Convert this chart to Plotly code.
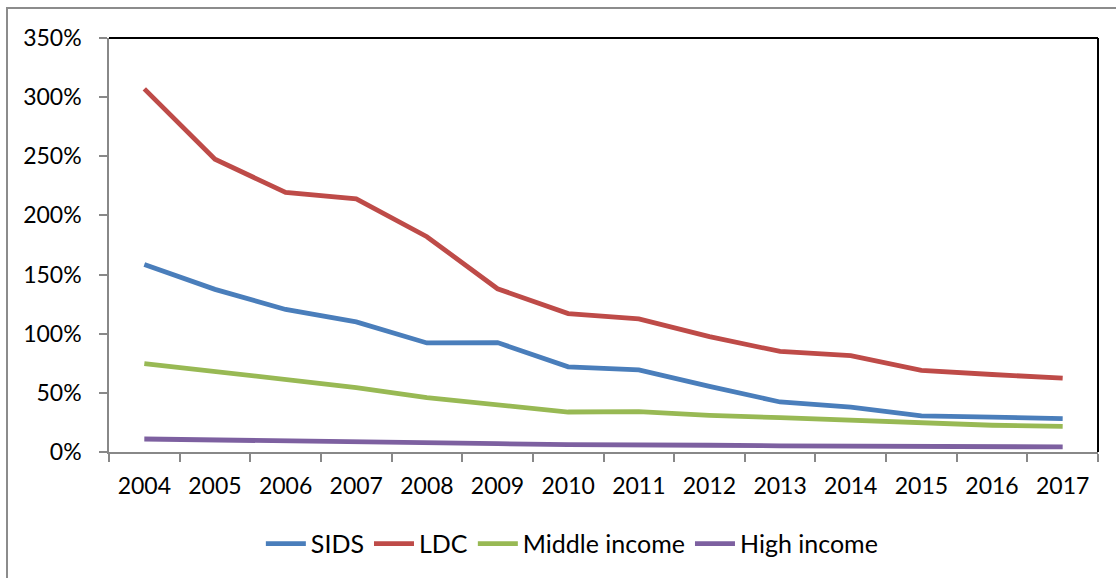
import plotly.graph_objects as go

years = ["2004","2005","2006","2007","2008","2009","2010","2011","2012","2013","2014","2015","2016","2017"]
sids = [1.585,1.375,1.205,1.10,0.922,0.925,0.72,0.695,0.555,0.423,0.38,0.305,0.295,0.283]
ldc = [3.07,2.475,2.195,2.14,1.82,1.38,1.17,1.125,0.975,0.85,0.815,0.69,0.655,0.625]
middle = [0.748,0.68,0.607,0.545,0.46,0.398,0.338,0.342,0.31,0.29,0.27,0.247,0.226,0.217]
high = [0.11,0.10,0.098,0.088,0.076,0.07,0.062,0.063,0.057,0.052,0.051,0.048,0.044,0.043]

names = ["SIDS","LDC","Middle income","High income"]
colors = ["#4A7EBB","#BE4B48","#98B954","#7D60A0"]
series = [sids, ldc, middle, high]

FONT = "Lato"
fig = go.Figure()
for n, c, s in zip(names, colors, series):
    fig.add_trace(go.Scatter(x=years, y=s, name=n, mode="lines",
                             line=dict(color=c, width=4.8)))

fig.update_layout(
    width=1116, height=578,
    margin=dict(l=109, r=18, t=38, b=126, autoexpand=False),
    paper_bgcolor="white", plot_bgcolor="white",
    font=dict(family=FONT, size=23, color="black"),
    showlegend=True,
    legend=dict(orientation="h", x=0.468, xanchor="center", y=-0.222, yanchor="middle",
                font=dict(family=FONT, size=25), itemwidth=40, tracegroupgap=0,
                bgcolor="rgba(0,0,0,0)"),
    xaxis=dict(type="category", showgrid=False, showline=True, linecolor="#888888", linewidth=1.5,
               ticks="outside", ticklen=8, tickcolor="#888888", tickwidth=1.5,
               tickson="boundaries", ticklabelstandoff=13, zeroline=False, automargin=False,
               range=[-0.5, 13.5]),
    yaxis=dict(range=[0, 3.5], dtick=0.5, tickformat=".0%", showgrid=False,
               showline=True, linecolor="#888888", linewidth=1.5,
               ticks="outside", ticklen=8, tickcolor="#888888", tickwidth=1.5,
               ticklabelstandoff=13, zeroline=False, automargin=False),
    shapes=[
        dict(type="line", xref="paper", yref="paper", x0=0, x1=1, y0=1, y1=1,
             line=dict(color="black", width=2)),
        dict(type="line", xref="paper", yref="paper", x0=1, x1=1, y0=0, y1=1,
             line=dict(color="black", width=2)),
        dict(type="rect", xref="paper", yref="paper", xsizemode="pixel", ysizemode="pixel",
             xanchor=0, yanchor=1, x0=-102, x1=1020, y0=30, y1=-560,
             line=dict(color="#8c8c8c", width=2), fillcolor="rgba(0,0,0,0)", layer="below"),
    ],
)

fig.write_html("out.html", config={"displayModeBar": False},
               post_script="document.body.style.margin='0px';")
